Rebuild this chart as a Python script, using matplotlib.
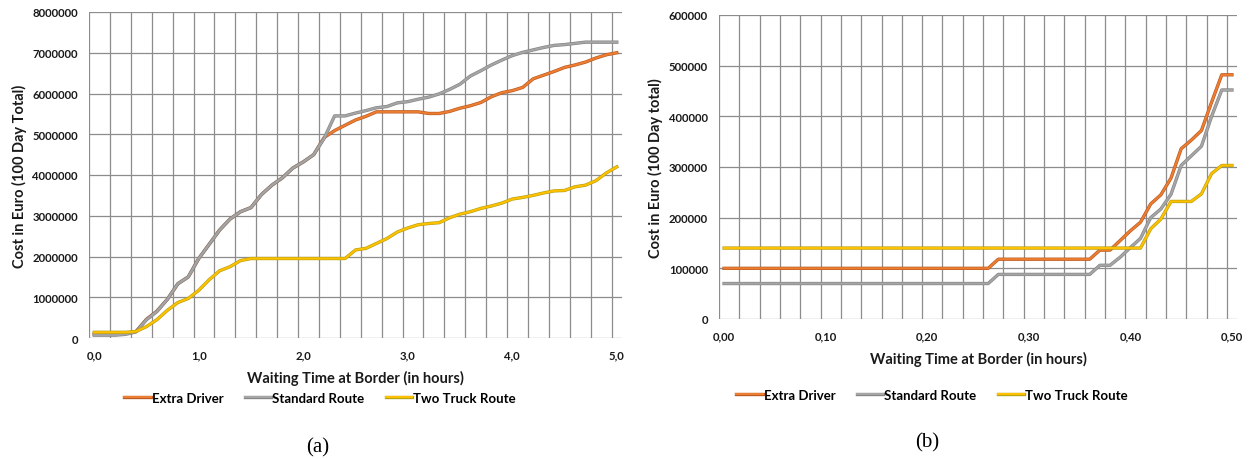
import numpy as np
import matplotlib
matplotlib.use("Agg")
import matplotlib.pyplot as plt
import matplotlib.patheffects as pe
from matplotlib.lines import Line2D

plt.rcParams['font.family'] = ['Lato', 'DejaVu Sans']

# (a) waiting time 0,0 .. 5,0 hours, cost in Euro
wait_a = np.linspace(0, 5, 51)
extra_a = [0.10, 0.10, 0.10, 0.11, 0.16, 0.46, 0.66, 0.95, 1.33, 1.50,
           1.95, 2.30, 2.65, 2.92, 3.10, 3.20, 3.52, 3.75, 3.93, 4.17,
           4.32, 4.50, 4.92, 5.09, 5.22, 5.35, 5.44, 5.55, 5.55, 5.55,
           5.55, 5.55, 5.51, 5.51, 5.56, 5.64, 5.70, 5.78, 5.92, 6.02,
           6.07, 6.15, 6.36, 6.45, 6.54, 6.64, 6.70, 6.77, 6.87, 6.95, 7.00]
standard_a = [0.07, 0.07, 0.07, 0.09, 0.15, 0.45, 0.65, 0.95, 1.33, 1.50,
              1.95, 2.30, 2.65, 2.92, 3.10, 3.20, 3.52, 3.75, 3.93, 4.17,
              4.32, 4.50, 4.90, 5.45, 5.45, 5.52, 5.58, 5.65, 5.68, 5.77,
              5.80, 5.86, 5.91, 5.99, 6.10, 6.23, 6.43, 6.56, 6.70, 6.82,
              6.93, 7.01, 7.07, 7.13, 7.18, 7.20, 7.23, 7.26, 7.26, 7.26, 7.26]
twotruck_a = [0.14, 0.14, 0.14, 0.14, 0.16, 0.28, 0.45, 0.68, 0.87, 0.97,
              1.17, 1.43, 1.65, 1.75, 1.90, 1.95, 1.95, 1.95, 1.95, 1.95,
              1.95, 1.95, 1.95, 1.95, 1.95, 2.16, 2.20, 2.32, 2.44, 2.60,
              2.70, 2.78, 2.81, 2.83, 2.95, 3.04, 3.10, 3.18, 3.24, 3.31,
              3.41, 3.45, 3.50, 3.56, 3.61, 3.62, 3.71, 3.75, 3.86, 4.05, 4.20]

# (b) waiting time 0,00 .. 0,50 hours
wait_b = np.linspace(0, 0.5, 51)
extra_b = [100000] * 27 + [118000] * 10 + [136000, 136000, 155000, 174000, 191000,
           227000, 245000, 278000, 336000, 353000, 372000, 428000, 482000, 482000]
standard_b = [70000] * 27 + [88000] * 10 + [106000, 106000, 122000, 141000, 159000,
              200000, 217000, 246000, 303000, 322000, 341000, 400000, 452000, 452000]
twotruck_b = [140000] * 42 + [178000, 197000, 232000, 232000, 232000,
              247000, 287000, 303000, 303000]

names = ['Extra Driver', 'Standard Route', 'Two Truck Route']
colors = ['#ED7D31', '#A5A5A5', '#FFC000']
edges = ['#b85a22', '#858585', '#b5a214']

grid_c = '#8c8c8c'
lab_font = dict(fontsize=10.5, fontweight='bold', color='#1a1a1a')


def style_line(ln, edge):
    ln.set_path_effects([pe.Stroke(linewidth=2.4, foreground=edge), pe.Normal()])


def setup(ax, xlim, vgrid, xticks, xlabels, ylim, yticks):
    ax.set_xlim(*xlim)
    ax.set_ylim(*ylim)
    for s in ax.spines.values():
        s.set_visible(False)
    for v in vgrid:
        ax.axvline(v, color=grid_c, lw=0.9, zorder=0)
    for y in yticks:
        ax.axhline(y, color=grid_c, lw=0.9, zorder=0)
    ax.set_xticks(xticks)
    ax.set_xticklabels(xlabels)
    ax.set_yticks(yticks)
    ax.set_yticklabels([str(int(y)) for y in yticks])
    ax.tick_params(length=0, labelsize=8.2, colors='#1a1a1a', pad=8)
    for t in ax.get_xticklabels() + ax.get_yticklabels():
        t.set_fontweight('bold')


fig = plt.figure(figsize=(12.5, 4.6), dpi=100)

ax1 = fig.add_axes([89 / 1250, 121 / 460, 533 / 1250, 326 / 460])
yv = np.array([extra_a, standard_a, twotruck_a]) * 1e6
for i in range(3):
    ln, = ax1.plot(wait_a, yv[i], color=colors[i], lw=1.5, zorder=3 + i)
    style_line(ln, edges[i])
setup(ax1, (-0.05, 5.05), -0.05 + 0.2 * np.arange(26),
      [0, 1, 2, 3, 4, 5], ['0,0', '1,0', '2,0', '3,0', '4,0', '5,0'],
      (0, 8e6), np.arange(0, 8e6 + 1, 1e6))
ax1.set_xlabel('Waiting Time at Border (in hours)', labelpad=7, **lab_font)
ax1.set_ylabel('Cost in Euro (100 Day Total)', labelpad=4, **lab_font)

ax2 = fig.add_axes([719 / 1250, 140 / 460, 518 / 1250, 304 / 460])
for i, vals in enumerate([extra_b, standard_b, twotruck_b]):
    ln, = ax2.plot(wait_b, vals, color=colors[i], lw=1.5, zorder=3 + i)
    style_line(ln, edges[i])
setup(ax2, (-0.005, 0.505), -0.005 + 0.02 * np.arange(26),
      [0, 0.1, 0.2, 0.3, 0.4, 0.5], ['0,00', '0,10', '0,20', '0,30', '0,40', '0,50'],
      (0, 600000), np.arange(0, 600001, 100000))
ax2.set_xlabel('Waiting Time at Border (in hours)', labelpad=7, **lab_font)
ax2.set_ylabel('Cost in Euro (100 Day total)', labelpad=4, **lab_font)

handles = []
for i in range(3):
    h = Line2D([], [], color=colors[i], lw=1.5)
    style_line(h, edges[i])
    handles.append(h)

for cx, cy in [(320 / 1250, 1 - 399 / 460), (932 / 1250, 1 - 396 / 460)]:
    fig.legend(handles, names, loc='center', bbox_to_anchor=(cx, cy), ncol=3,
               frameon=False, handlelength=2.0, handletextpad=0.1,
               columnspacing=1.6, prop=dict(family='Lato', weight='bold', size=9.5))

fig.text(318 / 1250, 1 - 448 / 460, '(a)', ha='center', va='center',
         family='Liberation Serif', fontsize=15)
fig.text(927 / 1250, 1 - 443 / 460, '(b)', ha='center', va='center',
         family='Liberation Serif', fontsize=15)

fig.savefig('out.png', dpi=100)
